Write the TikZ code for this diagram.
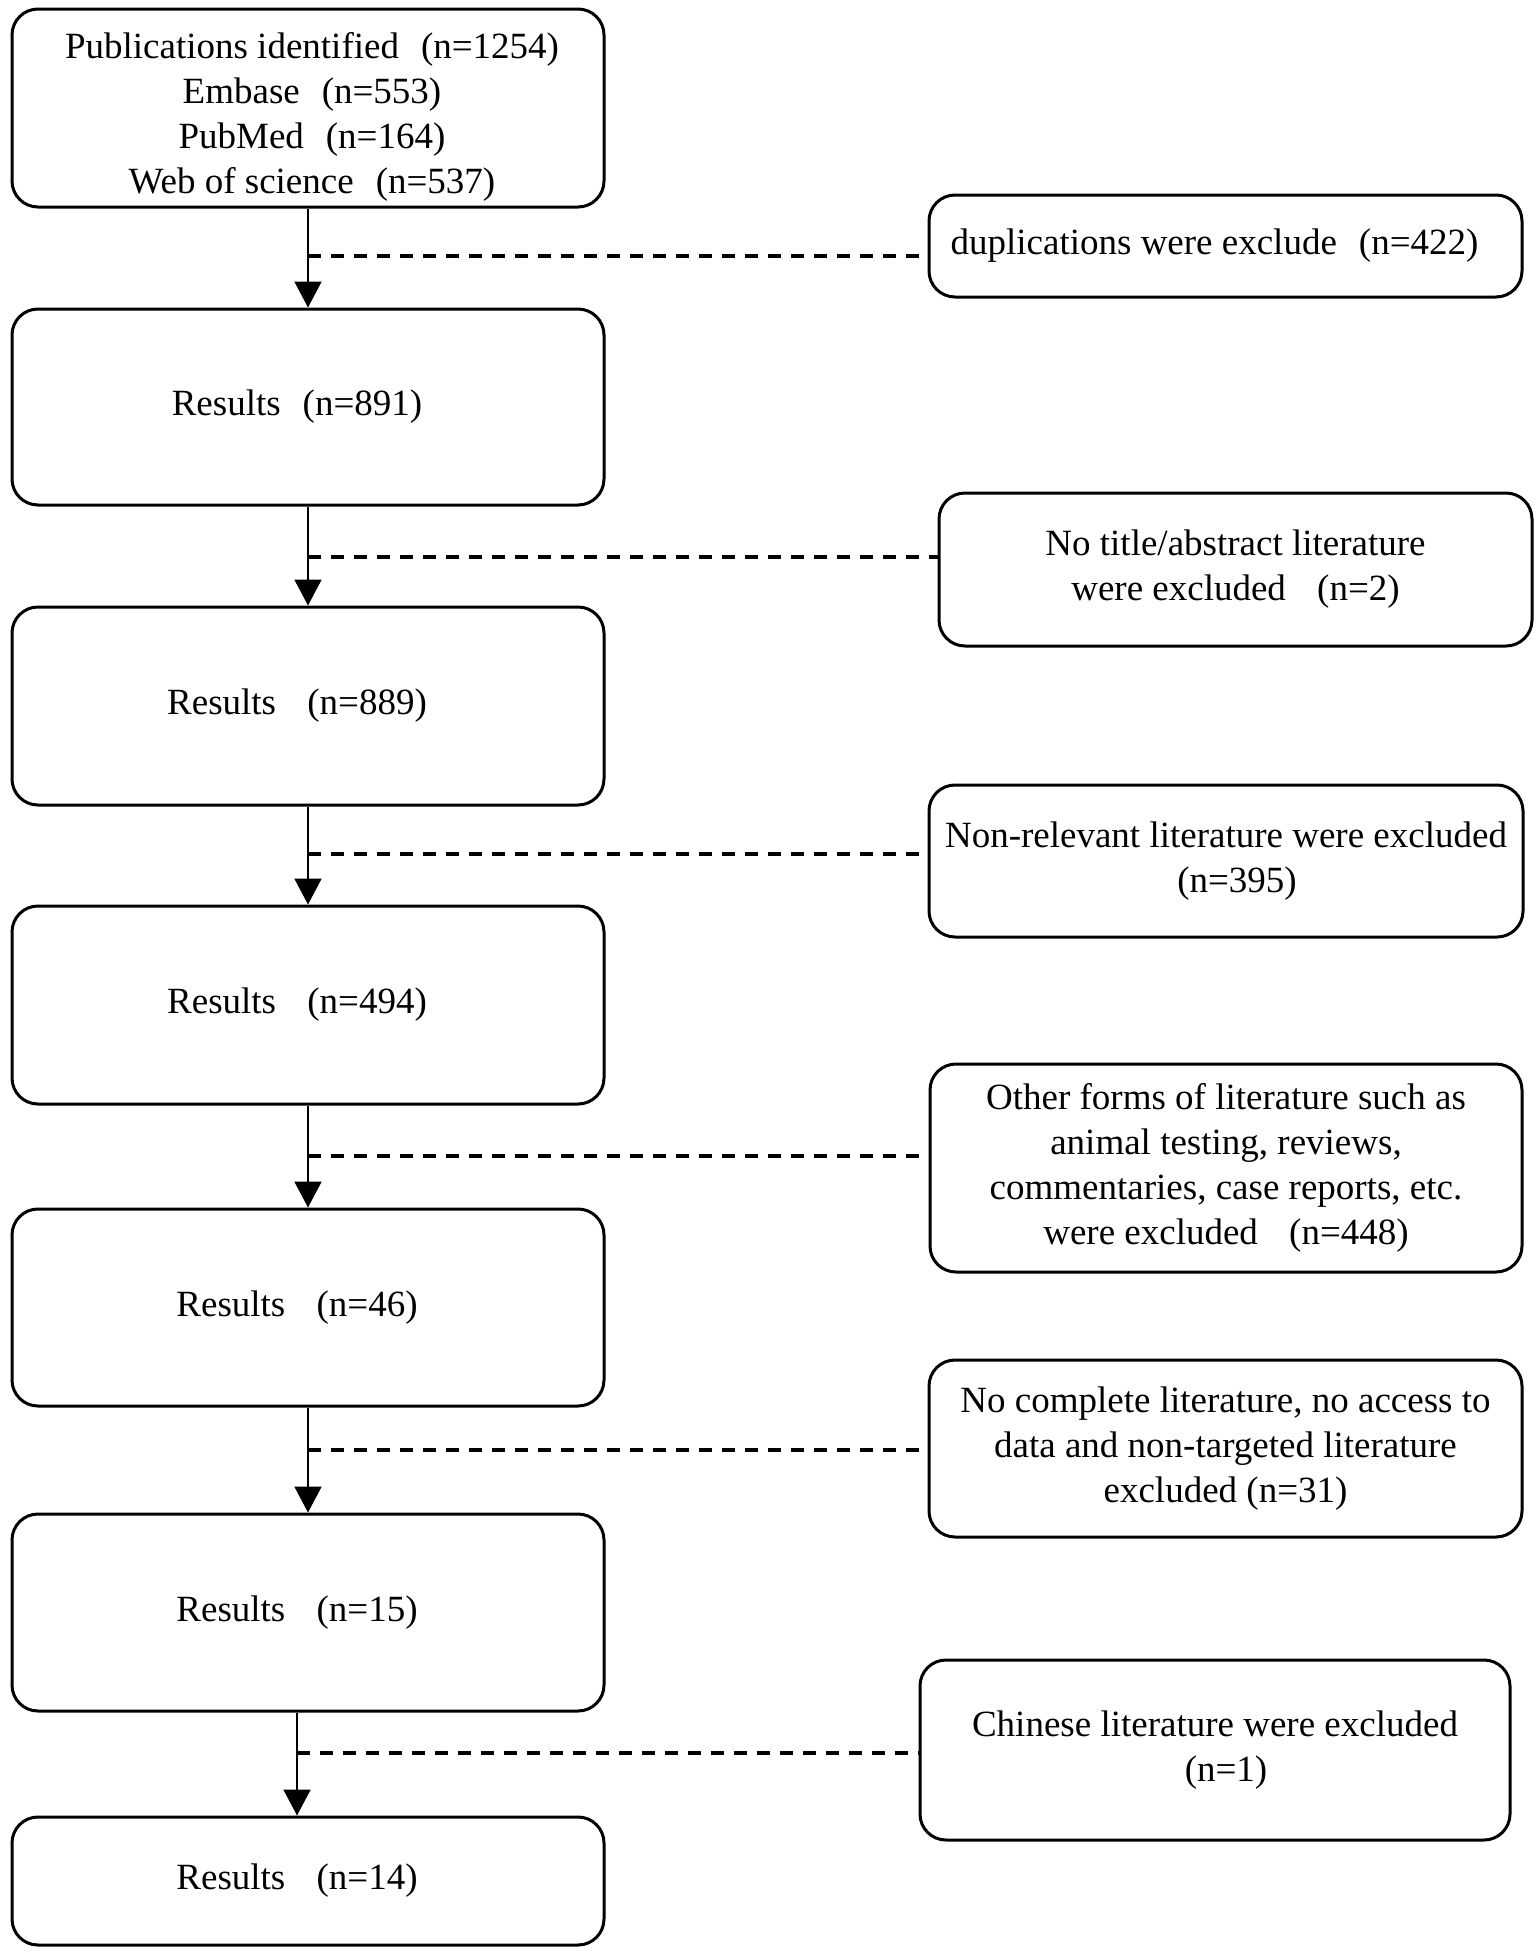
\documentclass[tikz,border=0pt]{standalone}
\usepackage{fontspec}
\setmainfont{Liberation Serif}
\usetikzlibrary{arrows.meta}
\newcommand{\lp}{\hspace{22pt}(}
\newcommand{\rp}{)\hspace{22pt}}
\begin{document}
\begin{tikzpicture}[x=1pt,y=-1pt,
  every node/.style={font=\fontsize{37}{45}\selectfont},
  mainbox/.style={draw,line width=3pt,rounded corners=26pt,minimum width=592pt,inner sep=0pt,align=center},
  sidebox/.style={draw,line width=3pt,rounded corners=26pt,inner sep=0pt,align=center},
  plaintext/.style={inner sep=0pt,align=center},
  flow/.style={line width=2pt,-{Triangle[width=27pt,length=26pt]}},
  dashline/.style={line width=3.5pt,dash pattern=on 13pt off 10pt}]
\useasboundingbox (0,0) rectangle (1535,1954);
% main column
\node[mainbox,minimum height=198pt] (b1) at (308,108) {};
\node[plaintext] (b1t) at (312,117) {Publications identified\lp n=1254)\\Embase\lp n=553)\\PubMed\lp n=164)\\Web of science\lp n=537)};
\node[mainbox,minimum height=196pt] (b2) at (308,407) {Results\lp n=891\rp};
\node[mainbox,minimum height=198pt] (b3) at (308,706) {Results \lp n=889\rp};
\node[mainbox,minimum height=198pt] (b4) at (308,1005) {Results \lp n=494\rp};
\node[mainbox,minimum height=197pt] (b5) at (308,1307.5) {Results \lp n=46\rp};
\node[mainbox,minimum height=197pt] (b6) at (308,1612.5) {Results \lp n=15\rp};
\node[mainbox,minimum height=128pt] (b7) at (308,1881) {Results \lp n=14\rp};
% side column
\node[sidebox,minimum width=593pt,minimum height=102pt] (s1) at (1225.5,246) {duplications were exclude\lp n=422\rp};
\node[sidebox,minimum width=593pt,minimum height=153pt] (s2) at (1235.5,569.5) {No title/abstract literature\\were excluded \lp n=2\rp};
\node[sidebox,minimum width=594pt,minimum height=152pt] (s3) at (1226,861) {Non-relevant literature were excluded\\\lp n=395\rp};
\node[sidebox,minimum width=592pt,minimum height=208pt] (s4) at (1226,1168) {Other forms of literature such as\\animal testing, reviews,\\commentaries, case reports, etc.\\were excluded \lp n=448\rp};
\node[sidebox,minimum width=593pt,minimum height=177pt] (s5) at (1225.5,1448.5) {No complete literature, no access to\\data and non-targeted literature\\excluded (n=31)};
\node[sidebox,minimum width=590pt,minimum height=180pt] (s6) at (1215,1750) {Chinese literature were excluded\\\lp n=1\rp};
% arrows
\draw[flow] (b1.south) -- (b2.north);
\draw[flow] (b2.south) -- (b3.north);
\draw[flow] (b3.south) -- (b4.north);
\draw[flow] (b4.south) -- (b5.north);
\draw[flow] (b5.south) -- (b6.north);
\draw[flow] ([xshift=-11pt]b6.south) -- ([xshift=-11pt]b7.north);
% dashed connectors
\coordinate (d1) at (308,256);
\coordinate (d2) at (308,557);
\coordinate (d3) at (308,854);
\coordinate (d4) at (308,1156);
\coordinate (d5) at (308,1450);
\coordinate (d6) at (297,1753);
\draw[dashline] (d1) -- (d1 -| s1.west);
\draw[dashline] (d2) -- (d2 -| s2.west);
\draw[dashline] (d3) -- (d3 -| s3.west);
\draw[dashline] (d4) -- (d4 -| s4.west);
\draw[dashline] (d5) -- (d5 -| s5.west);
\draw[dashline] (d6) -- (d6 -| s6.west);
\end{tikzpicture}
\end{document}
